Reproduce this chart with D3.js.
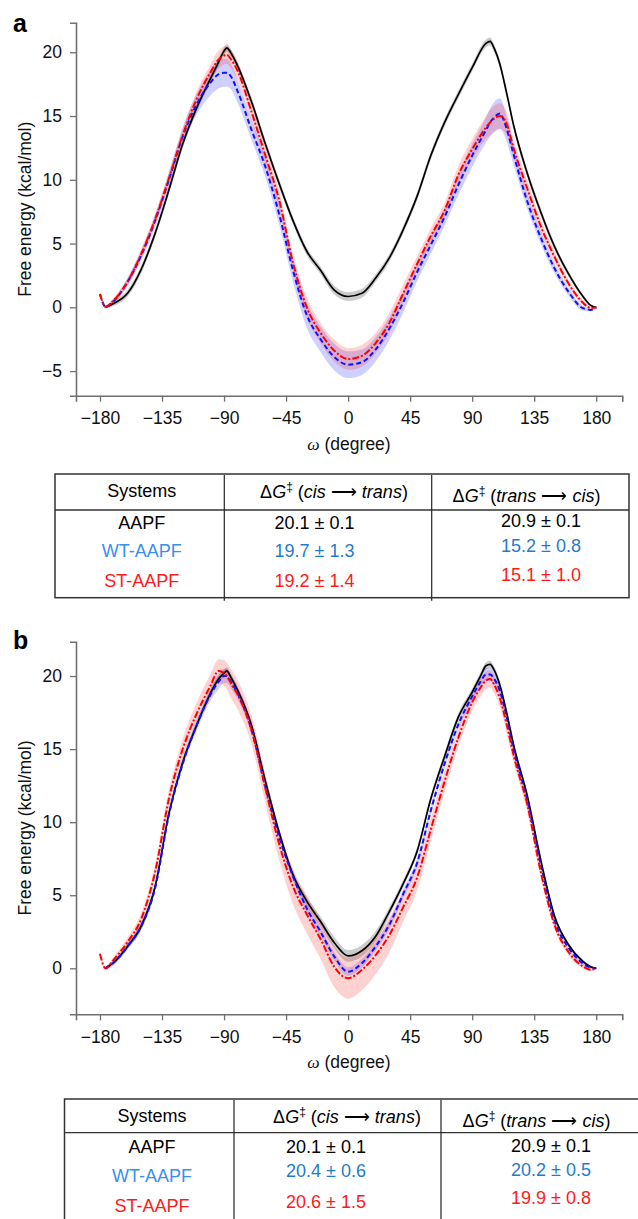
<!DOCTYPE html>
<html>
<head>
<meta charset="utf-8">
<script src="https://cdn.jsdelivr.net/npm/d3@7"></script>
<style>
	body { margin: 0; background: #fff; }
	svg text { font-family: "Liberation Sans", Arial, Helvetica, sans-serif; }
</style>
</head>
<body>
<div id="graphicContainer"></div>
<script>

// ---- panel a : omega grid and free energy profiles (kcal/mol)
var omegaA = [-180,-176,-170,-160,-150,-140,-130,-120,-110,-100,-95,-90,-88,-85,-80,-70,-60,-50,-40,-30,-20,-10,0,10,20,30,40,50,60,70,80,90,100,103,106,110,115,120,130,140,150,160,170,176,180]
var aapfA = [null,0,0.3,1.1,3.0,5.8,9.2,12.8,15.6,17.9, 19.0,20.1,20.35,19.95,18.9,16.1,12.8,9.7,6.8,4.4, 2.9,1.35,0.85,1.1,2.3,3.9,6.1,8.7,11.9,14.5, 16.7,18.8,20.7,20.85,20.3,19.1,16.8,14.3,10.5,7.4, 4.7,2.6,0.9,0.15,0]
var wtA = [1.05,0.05,0.5,2.0,4.1,6.8,10.0,13.4,15.9,17.6, 18.2,18.4,18.4,18.1,16.9,13.9,11.0,7.3,2.9,-0.6, -2.5,-3.9,-4.5,-4.3,-3.3,-1.65,0.4,2.75,4.9,7.1, 9.6,11.9,13.9,14.5,14.9,15.2,14.0,12.0,8.3,5.4, 3.0,1.2,-0.05,-0.2,0]
var stA = [1.05,0.05,0.55,2.0,4.2,6.9,10.1,13.5,16.3,18.4, 19.3,19.75,19.8,19.45,18.5,15.3,11.9,8.4,3.5,0.0, -2.0,-3.4,-4.05,-3.8,-2.8,-1.2,1.1,3.4,5.6,7.6, 10.4,12.4,14.1,14.5,14.8,15.0,14.4,12.5,9.3,6.3, 3.9,1.85,0.4,-0.05,0]
var aapfErrA = [0,0.1,0.2,0.25,0.3,0.3,0.3,0.3,0.3,0.3, 0.3,0.3,0.3,0.3,0.3,0.3,0.3,0.3,0.3,0.3, 0.3,0.35,0.35,0.35,0.3,0.3,0.3,0.3,0.3,0.3, 0.3,0.3,0.3,0.3,0.3,0.3,0.3,0.3,0.3,0.3, 0.25,0.2,0.15,0.1,0.05]
var wtErrA = [0.1,0.1,0.2,0.3,0.4,0.5,0.6,0.7,0.8,1.0, 1.1,1.1,1.1,1.0,0.9,0.8,0.8,0.8,0.9,1.0, 1.0,1.05,1.05,1.0,0.95,0.9,0.8,0.7,0.7,0.7, 0.8,0.9,1.0,1.1,1.2,1.2,1.0,0.8,0.6,0.5, 0.4,0.3,0.2,0.1,0.05]
var stErrA = [0.1,0.1,0.2,0.3,0.4,0.4,0.5,0.5,0.6,0.6, 0.7,0.7,0.7,0.7,0.7,0.7,0.7,0.7,0.7,0.8, 0.8,0.85,0.85,0.85,0.8,0.8,0.7,0.6,0.6,0.6, 0.7,0.8,0.9,1.0,1.0,1.0,0.9,0.7,0.6,0.5, 0.4,0.3,0.2,0.1,0.05]

// ---- panel b
var omegaB = [-180,-176,-170,-160,-150,-140,-130,-120,-110,-100,-94,-90,-88,-85,-80,-70,-60,-50,-40,-30,-20,-10,0,10,20,30,40,50,60,70,80,90,96,100,103,106,110,115,120,130,140,150,160,170,176,180]
var aapfB = [null,0,0.4,1.5,2.9,5.6,10.6,14.1,16.6,18.8, 19.8,20.2,20.35,19.9,19.0,16.6,12.8,9.3,6.4,4.6, 3.2,1.75,0.85,1.2,2.2,3.9,5.8,8.0,11.6,14.5, 17.2,18.9,20.0,20.7,20.8,20.4,19.4,17.5,15.3,11.8, 7.3,3.5,1.6,0.5,0.1,0]
var wtB = [null,0,0.4,1.5,2.9,5.5,10.5,14.0,16.6,18.7, 19.6,20.0,20.0,19.6,18.8,16.3,12.4,9.0,6.3,4.1, 2.5,0.8,-0.23,0.35,1.5,3.0,5.1,7.2,10.8,14.0, 16.7,18.6,19.6,20.1,20.1,19.8,19.0,17.2,15.0,11.5, 7.0,3.2,1.4,0.35,0.05,0]
var stB = [1.0,0,0.6,1.8,3.4,6.6,11.6,15.0,17.4,19.3, 20.35,20.2,20.0,19.5,18.7,16.3,12.3,8.5,5.6,3.7, 2.0,0.1,-0.68,-0.1,0.9,2.3,4.2,6.2,9.5,12.8, 15.8,18.2,19.2,19.7,19.8,19.4,18.5,16.7,14.6,11.2, 6.5,2.9,1.1,0.15,-0.1,0]
var aapfErrB = [0,0.1,0.15,0.2,0.25,0.25,0.25,0.25,0.25,0.25, 0.25,0.25,0.25,0.25,0.25,0.25,0.25,0.25,0.3,0.3, 0.35,0.4,0.4,0.4,0.35,0.3,0.25,0.25,0.25,0.25, 0.25,0.25,0.25,0.25,0.25,0.25,0.25,0.25,0.25,0.25, 0.25,0.2,0.15,0.1,0.05,0.05]
var wtErrB = [0,0.1,0.15,0.2,0.25,0.3,0.3,0.3,0.35,0.4, 0.5,0.5,0.5,0.45,0.4,0.35,0.3,0.3,0.3,0.3, 0.3,0.3,0.3,0.3,0.3,0.3,0.3,0.3,0.3,0.3, 0.3,0.35,0.4,0.45,0.45,0.4,0.35,0.3,0.3,0.3, 0.25,0.2,0.15,0.1,0.05,0.05]
var stErrB = [0.1,0.1,0.2,0.3,0.4,0.5,0.6,0.7,0.75,0.8, 0.8,0.9,0.9,1.0,1.0,1.0,1.0,1.1,1.2,1.3, 1.35,1.4,1.4,1.4,1.3,1.2,1.0,0.9,0.8,0.7, 0.6,0.6,0.6,0.6,0.6,0.6,0.6,0.6,0.5,0.5, 0.4,0.3,0.2,0.15,0.1,0.05]

var xTicks = [-180,-135,-90,-45,0,45,90,135,180]
var yTicksA = [-5,0,5,10,15,20]
var yTicksB = [0,5,10,15,20]

// ---- tables
var systems = ["AAPF", "WT-AAPF", "ST-AAPF"]
var cisTransA = ["20.1 ± 0.1", "19.7 ± 1.3", "19.2 ± 1.4"]
var transCisA = ["20.9 ± 0.1", "15.2 ± 0.8", "15.1 ± 1.0"]
var cisTransB = ["20.1 ± 0.1", "20.4 ± 0.6", "20.6 ± 1.5"]
var transCisB = ["20.9 ± 0.1", "20.2 ± 0.5", "19.9 ± 0.8"]

var labelColours = ["#000", "#3a8ef2", "#ff1a1a"]
var valueColours = ["#000", "#1f7ccc", "#ff1a1a"]

var svg = d3.select("#graphicContainer").append("svg")
	.attr("width", 638)
	.attr("height", 1219)

function drawPanel(p) {

	var x = d3.scaleLinear()
		.domain([-197.4, 198.9])
		.range([76, 622.3])

	var y = d3.scaleLinear()
		.domain(p.yDomain)
		.range([p.bottom, p.top])

	var g = svg.append("g")
	var idx = d3.range(p.omega.length)

	var series = [
		{vals: p.aapf, errs: p.aapfErr, band: "rgba(0,0,0,0.2)", stroke: "#000", dash: null, w: 1.7},
		{vals: p.wt, errs: p.wtErr, band: "rgba(40,40,255,0.22)", stroke: "#1010ff", dash: "5,3", w: 2},
		{vals: p.st, errs: p.stErr, band: "rgba(255,30,30,0.2)", stroke: "#ff0000", dash: "7,2,2,2", w: 2}
	]

	series.forEach(function (s) {
		var area = d3.area()
			.defined(i => s.vals[i] != null)
			.x(i => x(p.omega[i]))
			.y0(i => y(s.vals[i] - s.errs[i]))
			.y1(i => y(s.vals[i] + s.errs[i]))
			.curve(d3.curveMonotoneX)
		g.append("path")
			.datum(idx)
			.attr("d", area)
			.attr("fill", s.band)
	})

	series.forEach(function (s) {
		var line = d3.line()
			.defined(i => s.vals[i] != null)
			.x(i => x(p.omega[i]))
			.y(i => y(s.vals[i]))
			.curve(d3.curveMonotoneX)
		g.append("path")
			.datum(idx)
			.attr("d", line)
			.attr("fill", "none")
			.attr("stroke", s.stroke)
			.attr("stroke-width", s.w)
			.attr("stroke-dasharray", s.dash)
			.attr("stroke-linejoin", "round")
	})

	var xAxis = d3.axisBottom(x).tickValues(xTicks).tickSizeOuter(0).tickSize(6).tickPadding(10)
	var yAxis = d3.axisLeft(y).tickValues(p.yTicks).tickSizeOuter(0).tickSize(6).tickPadding(8)

	g.append("g")
		.attr("transform", "translate(0," + p.bottom + ")")
		.call(xAxis)

	g.append("g")
		.attr("transform", "translate(76,0)")
		.call(yAxis)

	g.selectAll(".domain").attr("stroke", "#707070").attr("stroke-width", 1.6)
	g.selectAll(".tick line").attr("stroke", "#707070").attr("stroke-width", 1.3)
	g.selectAll(".tick text")
		.attr("font-size", 17.5)
		.attr("fill", "#111")
		.style("font-family", '"Liberation Sans", Arial, sans-serif')

	var xl = g.append("text")
		.attr("x", 349)
		.attr("y", p.bottom + 54)
		.attr("text-anchor", "middle")
		.attr("font-size", 17.5)
		.attr("fill", "#111")
	xl.append("tspan").text("ω").style("font-family", '"Liberation Serif", "DejaVu Serif", serif').attr("font-style", "italic")
	xl.append("tspan").text(" (degree)")

	g.append("text")
		.attr("transform", "translate(31," + ((p.top + p.bottom) / 2) + ") rotate(-90)")
		.attr("text-anchor", "middle")
		.attr("font-size", 17.5)
		.attr("fill", "#111")
		.text("Free energy (kcal/mol)")

	g.append("text")
		.attr("x", 13)
		.attr("y", p.labelY)
		.attr("font-size", 25)
		.attr("font-weight", "bold")
		.text(p.label)
}

function header(sel, from, to) {
	sel.append("tspan").text("Δ")
	sel.append("tspan").text("G").attr("font-style", "italic")
	sel.append("tspan").text("‡").attr("font-size", 12).attr("dy", -7)
	sel.append("tspan").text(" (").attr("dy", 7)
	sel.append("tspan").text(from).attr("font-style", "italic")
	sel.append("tspan").text(" ⟶ ")
	sel.append("tspan").text(to).attr("font-style", "italic")
	sel.append("tspan").text(")")
}

function drawTable(t) {
	var g = svg.append("g")
	var lc = "#333"

	g.append("rect")
		.attr("x", t.left).attr("y", t.top)
		.attr("width", t.right - t.left).attr("height", t.bottom - t.top)
		.attr("fill", "none").attr("stroke", lc).attr("stroke-width", 1.5)

	g.append("line")
		.attr("x1", t.left).attr("x2", t.right)
		.attr("y1", t.sep).attr("y2", t.sep)
		.attr("stroke", lc).attr("stroke-width", 1.3)

	t.dividers.forEach(function (dx) {
		g.append("line")
			.attr("x1", dx).attr("x2", dx)
			.attr("y1", t.top + 1).attr("y2", t.bottom + 3)
			.attr("stroke", "#222").attr("stroke-width", 1.2)
	})

	var fs = 18

	g.append("text").attr("x", t.colX[0]).attr("y", t.headY[0])
		.attr("text-anchor", "middle").attr("font-size", fs).text("Systems")
	header(g.append("text").attr("x", t.colX[1]).attr("y", t.headY[1])
		.attr("text-anchor", "middle").attr("font-size", fs), "cis", "trans")
	header(g.append("text").attr("x", t.colX[2]).attr("y", t.headY[2])
		.attr("text-anchor", "middle").attr("font-size", fs), "trans", "cis")

	systems.forEach(function (s, i) {
		g.append("text").attr("x", t.colX[0]).attr("y", t.rowY[0][i])
			.attr("text-anchor", "middle").attr("font-size", fs)
			.attr("fill", labelColours[i]).text(s)
		g.append("text").attr("x", t.valX[0]).attr("y", t.rowY[1][i])
			.attr("text-anchor", "middle").attr("font-size", fs)
			.attr("fill", valueColours[i]).text(t.cisTrans[i])
		g.append("text").attr("x", t.valX[1]).attr("y", t.rowY[2][i])
			.attr("text-anchor", "middle").attr("font-size", fs)
			.attr("fill", valueColours[i]).text(t.transCis[i])
	})
}

drawPanel({
	label: "a", labelY: 32,
	omega: omegaA, aapf: aapfA, wt: wtA, st: stA,
	aapfErr: aapfErrA, wtErr: wtErrA, stErr: stErrA,
	yDomain: [-6.93, 22.32], yTicks: yTicksA,
	top: 22.7, bottom: 395.7
})

drawTable({
	left: 55, right: 629, top: 474, sep: 510, bottom: 597.7,
	dividers: [224.3, 431.7],
	colX: [141.7, 334, 526.5], headY: [497, 498, 501.7],
	valX: [314.5, 541],
	rowY: [[529.3, 556.7, 587.3], [529.3, 556.7, 586.7], [526.7, 551.7, 580.7]],
	cisTrans: cisTransA, transCis: transCisA
})

drawPanel({
	label: "b", labelY: 649,
	omega: omegaB, aapf: aapfB, wt: wtB, st: stB,
	aapfErr: aapfErrB, wtErr: wtErrB, stErr: stErrB,
	yDomain: [-3.147, 22.35], yTicks: yTicksB,
	top: 641.7, bottom: 1014.3
})

drawTable({
	left: 64.5, right: 648, top: 1099, sep: 1132.7, bottom: 1240,
	dividers: [234, 441],
	colX: [152, 347, 536.5], headY: [1121.7, 1123, 1126.7],
	valX: [326, 551],
	rowY: [[1153, 1181.7, 1211.7], [1153, 1176.7, 1208], [1152.3, 1176, 1204.3]],
	cisTrans: cisTransB, transCis: transCisB
})

</script>
</body>
</html>
